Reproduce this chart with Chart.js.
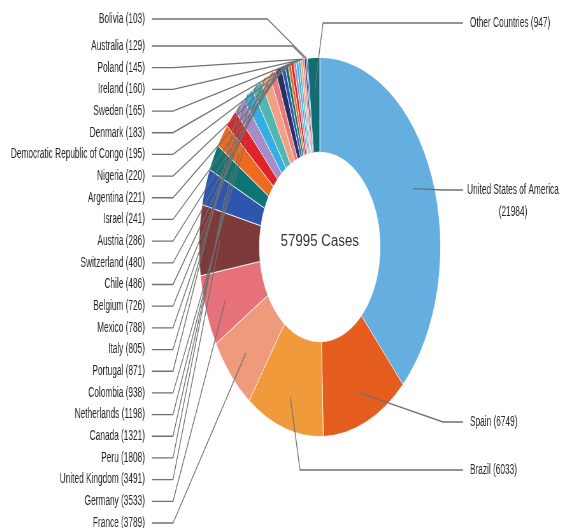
<!DOCTYPE html>
<html>
<head>
<meta charset="utf-8">
<script src="https://cdn.jsdelivr.net/npm/chart.js@4.4.1/dist/chart.umd.min.js"></script>
<style>
  html, body { margin: 0; padding: 0; background: #fff; overflow: hidden; }
  /* the whole chart is squeezed sideways, like the original picture */
  #wrap { position: absolute; left: 0; top: 0; width: 881px; height: 528px; transform: scaleX(0.637); transform-origin: 0 0; }
</style>
</head>
<body>
<div id="wrap"><canvas id="casesChart"></canvas></div>
<script>
// Cases by country, clockwise from 12 o'clock
const countries = [
  'United States of America', 'Spain', 'Brazil', 'France', 'Germany', 'United Kingdom',
  'Peru', 'Canada', 'Netherlands', 'Colombia', 'Portugal', 'Italy', 'Mexico', 'Belgium',
  'Chile', 'Switzerland', 'Austria', 'Israel', 'Argentina', 'Nigeria',
  'Democratic Republic of Congo', 'Denmark', 'Sweden', 'Ireland', 'Poland', 'Australia',
  'Bolivia', 'Other Countries'
];
const cases = [
  21984, 6749, 6033, 3789, 3533, 3491,
  1808, 1321, 1198, 938, 871, 805, 788, 726,
  486, 480, 286, 241, 221, 220,
  195, 183, 165, 160, 145, 129,
  103, 947
];
const sliceColors = [
  '#65aee0', '#e55c1f', '#f09a3c', '#ee9a7b', '#e6717a', '#7c3a3b',
  '#2e56ae', '#0e7474', '#ef6a1f', '#e0232b', '#a68dc6', '#38ade2', '#50b6b2', '#f2a083',
  '#e8797f', '#283160', '#2e56ae', '#0e7474', '#ef6a1f', '#e0232b',
  '#a68dc6', '#38ade2', '#50b6b2', '#f2a083', '#e8797f', '#283160',
  '#2e56ae', '#136b73'
];

// which slices get their label on the left column (top to bottom)
const leftOrder = [26, 25, 24, 23, 22, 21, 20, 19, 18, 17, 16, 15, 14, 13, 12, 11, 10, 9, 8, 7, 6, 5, 4, 3];

const SX = 0.637; // horizontal squeeze of #wrap
const TEXT_SX = 0.93; // extra narrowing of the label font

// right hand labels: slice, label y, x of the bend in the leader (page px)
const rightLabels = [
  { idx: 27, y: 23, bend: 323 },
  { idx: 0, y: 190, bend: 443, twoLines: true },
  { idx: 1, y: 422, bend: 443 },
  { idx: 2, y: 470, bend: 300 }
];

function anchorOf(arc) {
  const mid = (arc.startAngle + arc.endAngle) / 2;
  const span = arc.endAngle - arc.startAngle;
  const f = span < 5.5 * Math.PI / 180 ? 1 : 0.83;
  const r = arc.outerRadius * f;
  return { x: arc.x + Math.cos(mid) * r, y: arc.y + Math.sin(mid) * r };
}

function polyline(ctx, pts) {
  ctx.beginPath();
  ctx.moveTo(pts[0][0], pts[0][1]);
  for (let i = 1; i < pts.length; i++) ctx.lineTo(pts[i][0], pts[i][1]);
  ctx.stroke();
}

function label(ctx, text, x, y, align) {
  ctx.save();
  ctx.translate(x, y);
  ctx.scale(TEXT_SX, 1);
  ctx.textAlign = align;
  ctx.fillText(text, 0, 0);
  ctx.restore();
}

const leaderPlugin = {
  id: 'leaders',
  afterDatasetsDraw(chart) {
    const ctx = chart.ctx;
    const arcs = chart.getDatasetMeta(0).data;
    ctx.save();
    ctx.strokeStyle = '#707070';
    ctx.lineWidth = 1.3;
    ctx.fillStyle = '#262626';
    ctx.font = '14px "Liberation Sans", Arial, sans-serif';
    ctx.textBaseline = 'middle';

    // left column
    const step = (523 - 46) / (leftOrder.length - 2);
    leftOrder.forEach((idx, i) => {
      const y = i === 0 ? 19 : 46 + (i - 1) * step;
      const a = anchorOf(arcs[idx]);
      let ex = 173 / SX;
      if (a.y > y) ex = Math.max(ex, a.x - (a.y - y) / SX);
      polyline(ctx, [[152 / SX, y], [ex, y], [a.x, a.y]]);
      label(ctx, `${countries[idx]} (${cases[idx]})`, 145 / SX, y, 'right');
    });

    // right column
    rightLabels.forEach((lab) => {
      const a = anchorOf(arcs[lab.idx]);
      polyline(ctx, [[463 / SX, lab.y], [lab.bend / SX, lab.y], [a.x, a.y]]);
      if (lab.twoLines) {
        label(ctx, countries[lab.idx], 513 / SX, lab.y, 'center');
        label(ctx, `(${cases[lab.idx]})`, 513 / SX, lab.y + 22, 'center');
      } else {
        label(ctx, `${countries[lab.idx]} (${cases[lab.idx]})`, 470 / SX, lab.y, 'left');
      }
    });

    // total in the hole
    const total = cases.reduce((s, v) => s + v, 0);
    ctx.translate(arcs[0].x, arcs[0].y - 5);
    ctx.scale(0.83 / SX, 1);
    ctx.font = '16px "Liberation Sans", Arial, sans-serif';
    ctx.textAlign = 'center';
    ctx.fillStyle = '#333333';
    ctx.fillText(`${total} Cases`, 0, 0);
    ctx.restore();
  }
};

new Chart(document.getElementById('casesChart').getContext('2d'), {
  type: 'doughnut',
  data: {
    labels: countries,
    datasets: [{
      data: cases,
      backgroundColor: sliceColors,
      borderColor: '#ffffff',
      borderWidth: 0.8,
      hoverOffset: 0
    }]
  },
  options: {
    responsive: true,
    maintainAspectRatio: false,
    animation: false,
    events: [],
    cutout: '50%',
    layout: { padding: { left: 312, right: 189, top: 57, bottom: 91 } },
    plugins: {
      legend: { display: false },
      tooltip: { enabled: false }
    }
  },
  plugins: [leaderPlugin]
});
</script>
</body>
</html>
